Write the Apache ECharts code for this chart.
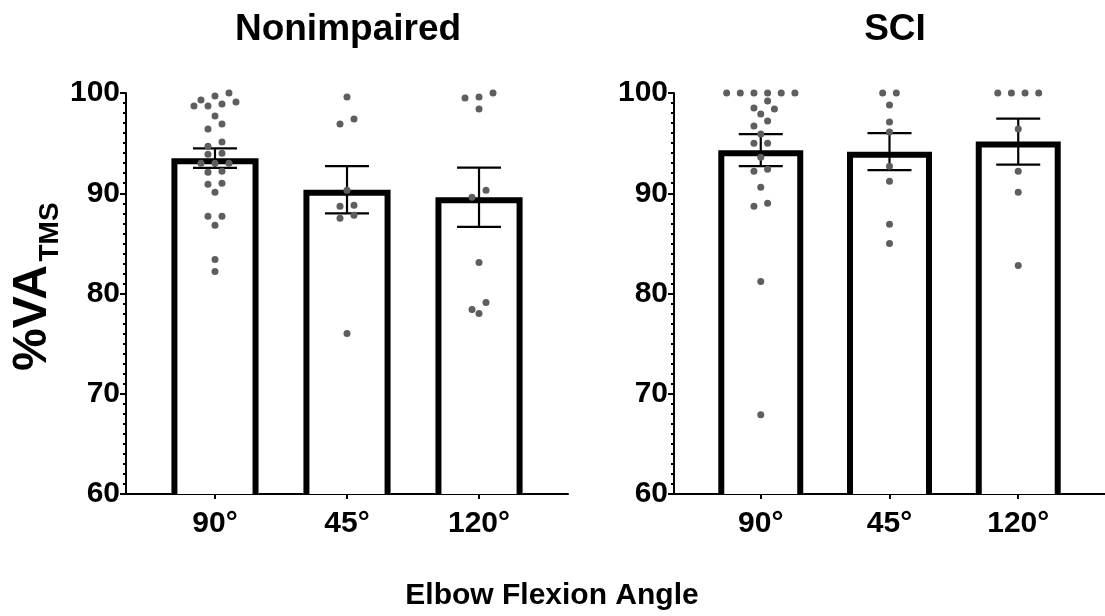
<!DOCTYPE html>
<html><head><meta charset="utf-8">
<script src="https://cdn.jsdelivr.net/npm/echarts@6/dist/echarts.min.js"></script>
<style>html,body{margin:0;padding:0;background:#fff}#c{width:1105px;height:616px}</style>
</head><body><div id="c"></div>
<script>
// ---- data ----
const categories = ['90°', '45°', '120°'];
const panelTitles = ['Nonimpaired', 'SCI'];
const yTicks = [60, 70, 80, 90, 100];

const niMeans = [93.5, 90.35, 89.6];
const niSem = [0.97, 2.35, 2.96];
const sciMeans = [94.3, 94.15, 95.15];
const sciSem = [1.6, 1.85, 2.3];

const ni90 = [100, 99.7, 99.3, 99.1, 98.9, 98.7, 98.7, 97.7, 96.9, 96.4, 95.1, 94.7, 94.0, 93.9, 93.0, 93.0, 93.0, 92.2, 92.1, 91.0, 90.9, 90.1, 87.7, 87.7, 86.8, 83.4, 82.2];
const ni45 = [99.6, 97.4, 96.9, 90.3, 88.8, 88.7, 87.8, 87.5, 76.0];
const ni120 = [100.0, 99.6, 99.5, 98.4, 90.3, 89.6, 83.1, 79.1, 78.4, 78.0];
const sci90 = [100, 100, 100, 100, 100, 100, 99.2, 98.5, 98.4, 97.9, 97.2, 96.7, 95.9, 95.0, 95.0, 93.6, 92.4, 92.2, 90.6, 89.0, 88.7, 81.2, 67.9];
const sci45 = [100, 100, 98.8, 97.1, 96.1, 92.7, 91.2, 86.9, 85.0];
const sci120 = [100, 100, 100, 100, 96.4, 92.2, 90.1, 82.8];

// ---- layout ----
const X_MIN = -0.674, X_MAX = 2.674;
const GRID_W = 442, GRID_H = 401, GRID_TOP = 93;
const grids = [{left: 126, top: GRID_TOP, width: GRID_W, height: GRID_H},
               {left: 674, top: GRID_TOP, width: GRID_W, height: GRID_H}];
const PX_X = GRID_W / (X_MAX - X_MIN);
const PX_Y = GRID_H / (yTicks[yTicks.length - 1] - yTicks[0]);
const BAR_HALF = 0.33;
const CAP_PX = 22;

// beeswarm computed from the values: rows of nearby values, laid out centred
function swarm(values, catIndex) {
  const vals = values.slice().sort((a, b) => b - a);
  const SP = 14, T = 0.75, MIN_D = 7.5;
  const placed = [];
  let i = 0;
  while (i < vals.length) {
    let j = i;
    while (j + 1 < vals.length && vals[i] - vals[j + 1] < T) j++;
    const row = vals.slice(i, j + 1).sort((a, b) => a - b);
    const n = row.length;
    const shifts = [0, 7, -7, 14, -14, 21, -21];
    let pos = null;
    for (const sh of shifts) {
      const cand = row.map((v, k) => ({dx: (k - (n - 1) / 2) * SP + sh, v}));
      const ok = cand.every(c => placed.every(p => Math.hypot(c.dx - p.dx, (c.v - p.v) * PX_Y) >= MIN_D));
      if (ok) { pos = cand; break; }
    }
    if (!pos) pos = row.map((v, k) => ({dx: (k - (n - 1) / 2) * SP, v}));
    placed.push(...pos);
    i = j + 1;
  }
  return placed.map(p => [catIndex + p.dx / PX_X, p.v]);
}

const panels = [
  {means: niMeans, sem: niSem, pts: [ni90, ni45, ni120]},
  {means: sciMeans, sem: sciSem, pts: [sci90, sci45, sci120]}
];

const FONT = 'Liberation Sans, Arial, Helvetica, sans-serif';

function barItem(params, api) {
  const x = api.value(0), m = api.value(1);
  const tl = api.coord([x - BAR_HALF, m]);
  const br = api.coord([x + BAR_HALF, yTicks[0]]);
  const lw = 6, h = lw / 2;
  return {type: 'group', children: [
    {type: 'rect', shape: {x: tl[0], y: tl[1], width: br[0] - tl[0], height: br[1] - tl[1]}, style: {fill: '#fff'}},
    {type: 'polyline', shape: {points: [[tl[0] + h, br[1]], [tl[0] + h, tl[1] + h], [br[0] - h, tl[1] + h], [br[0] - h, br[1]]]},
     style: {stroke: '#000', lineWidth: lw, fill: null, lineJoin: 'miter'}}
  ]};
}
function errItem(params, api) {
  const x = api.value(0), m = api.value(1), s = api.value(2);
  const hi = api.coord([x, m + s]), lo = api.coord([x, m - s]);
  const st = {stroke: '#000', lineWidth: 2.2};
  return {type: 'group', children: [
    {type: 'line', shape: {x1: hi[0], y1: hi[1], x2: lo[0], y2: lo[1]}, style: st},
    {type: 'line', shape: {x1: hi[0] - CAP_PX, y1: hi[1], x2: hi[0] + CAP_PX, y2: hi[1]}, style: st},
    {type: 'line', shape: {x1: lo[0] - CAP_PX, y1: lo[1], x2: lo[0] + CAP_PX, y2: lo[1]}, style: st}
  ]};
}

const xAxes = [], yAxes = [], series = [];
panels.forEach((p, gi) => {
  xAxes.push({
    type: 'value', gridIndex: gi, min: X_MIN, max: X_MAX,
    splitLine: {show: false},
    axisLine: {show: true, onZero: false, lineStyle: {color: '#000', width: 2}},
    axisTick: {show: true, customValues: [0, 1, 2], length: 5, lineStyle: {color: '#000', width: 2}},
    axisLabel: {show: true, customValues: [0, 1, 2], formatter: v => categories[Math.round(v)],
      color: '#000', fontSize: 30, fontWeight: 'bold', fontFamily: FONT, margin: 15}
  });
  yAxes.push({
    type: 'value', gridIndex: gi, min: yTicks[0], max: yTicks[yTicks.length - 1], interval: 10,
    splitLine: {show: false},
    axisLine: {show: true, onZero: false, lineStyle: {color: '#000', width: 2}},
    axisTick: {show: true, length: 6, lineStyle: {color: '#000', width: 2}},
    minorTick: {show: true, splitNumber: 10, length: 3, lineStyle: {color: '#000', width: 2}},
    axisLabel: {color: '#000', fontSize: 30, fontWeight: 'bold', fontFamily: FONT, margin: 6}
  });
  series.push({
    type: 'custom', xAxisIndex: gi, yAxisIndex: gi, z: 2,
    renderItem: barItem, data: p.means.map((m, i) => [i, m]), silent: true
  });
  series.push({
    type: 'custom', xAxisIndex: gi, yAxisIndex: gi, z: 3,
    renderItem: errItem, data: p.means.map((m, i) => [i, m, p.sem[i]]), silent: true
  });
  series.push({
    type: 'scatter', xAxisIndex: gi, yAxisIndex: gi, z: 4,
    symbol: 'circle', symbolSize: 7, itemStyle: {color: '#5e5e5e', opacity: 1},
    data: p.pts.flatMap((vals, ci) => swarm(vals, ci)), silent: true
  });
});

const chart = echarts.init(document.getElementById('c'), null, {renderer: 'canvas'});
chart.setOption({
  backgroundColor: '#fff',
  animation: false,
  grid: grids,
  xAxis: xAxes,
  yAxis: yAxes,
  series: series,
  graphic: [
    {type: 'text', x: 348, y: 30, style: {text: panelTitles[0], font: 'bold 37px ' + FONT, fill: '#000', align: 'center', verticalAlign: 'middle'}},
    {type: 'text', x: 895, y: 30, style: {text: panelTitles[1], font: 'bold 37px ' + FONT, fill: '#000', align: 'center', verticalAlign: 'middle'}},
    {type: 'text', x: 552, y: 596, style: {text: 'Elbow Flexion Angle', font: 'bold 30px ' + FONT, fill: '#000', align: 'center', verticalAlign: 'middle'}},
    {type: 'text', x: 33, y: 318, rotation: Math.PI / 2, style: {text: '%VA', font: 'bold 48px ' + FONT, fill: '#000', align: 'center', verticalAlign: 'middle'}},
    {type: 'text', x: 50, y: 232, rotation: Math.PI / 2, style: {text: 'TMS', font: 'bold 28px ' + FONT, fill: '#000', align: 'center', verticalAlign: 'middle'}}
  ]
});
</script></body></html>
